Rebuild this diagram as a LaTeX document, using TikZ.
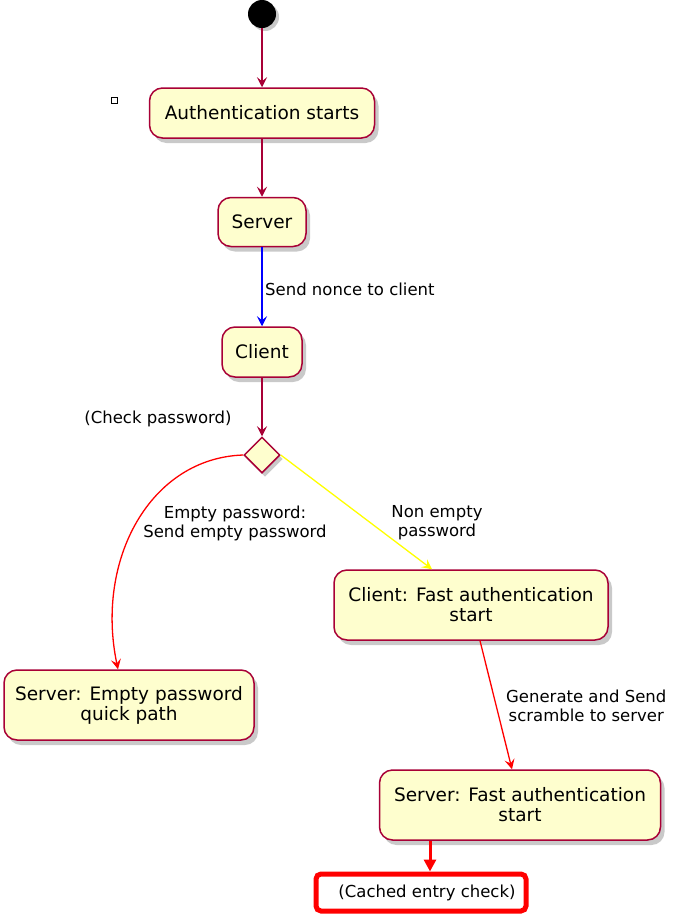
\documentclass[tikz,border=0pt]{standalone}
\usepackage{fontspec}
\setmainfont{DejaVu Sans}
\usetikzlibrary{arrows.meta,shadows,shapes.geometric}
\definecolor{uml}{HTML}{A80036}
\definecolor{umlfill}{HTML}{FEFECE}
\definecolor{ured}{HTML}{FF0000}
\definecolor{ublue}{HTML}{0000FF}
\definecolor{uyellow}{HTML}{FFFF00}
\tikzset{
  act/.style={draw=uml, fill=umlfill, line width=1.5pt, rounded corners=13pt, align=center,
    font=\fontsize{18.5}{20}\selectfont, inner sep=0pt,
    drop shadow={shadow xshift=4pt, shadow yshift=-5pt, opacity=0.35, fill=black!60}},
  lbl/.style={font=\fontsize{16.5}{19}\selectfont, align=center, inner sep=0pt},
  flow/.style={line width=1.3pt, -{Stealth[length=10pt,width=10pt,inset=4pt]}},
}
\begin{document}
\begin{tikzpicture}[x=1pt,y=-1pt]
\useasboundingbox (0,0) rectangle (675,916);
\fill[white] (0,0) rectangle (675,916);
% start
\node[circle, fill=black, minimum size=28pt, inner sep=0pt,
  drop shadow={shadow xshift=3pt, shadow yshift=-3pt, opacity=0.35, fill=black!60}] (start) at (262,14) {};
\node[draw=black, line width=0.7pt, minimum size=6pt, inner sep=0pt] (sq) at (114,100) {};
% actions
\node[act, minimum width=225pt, minimum height=50pt] (auth) at (262,113) {Authentication starts};
\node[act, minimum width=88pt, minimum height=49pt] (server) at (262,222) {Server};
\node[act, minimum width=80pt, minimum height=50pt] (client) at (262,352) {Client};
\node[diamond, draw=uml, fill=umlfill, line width=1.5pt, minimum width=36pt, minimum height=36pt, inner sep=0pt,
  drop shadow={shadow xshift=3pt, shadow yshift=-4pt, opacity=0.35, fill=black!60}] (dec) at (262,455) {};
\node[act, minimum width=274pt, minimum height=70pt] (cfast) at (471,605) {Client: Fast authentication\\start};
\node[act, minimum width=250pt, minimum height=70pt] (sempty) at (129,705) {Server: Empty password\\quick path};
\node[act, minimum width=281pt, minimum height=70pt] (sfast) at (520,805) {Server: Fast authentication\\start};
\node[draw=ured, line width=5pt, rounded corners=5pt, minimum width=210pt, minimum height=37pt,
  font=\fontsize{16.5}{19}\selectfont] (cache) at (421,892.5) {\raisebox{2pt}{\hspace{12pt}(Cached entry check)}};
% labels
\node[lbl, anchor=west] (l1) at (265,289) {Send nonce to client};
\node[lbl] (l2) at (158,419) {(Check password)};
\node[lbl] (l3) at (235,523) {Empty password:\\Send empty password};
\node[lbl] (l4) at (437,523) {Non empty\\password};
\node[lbl, anchor=west] (l5) at (506,706) {Generate and Send\\scramble to server};
% edges
\draw[flow, uml] (start) -- (auth);
\draw[flow, uml] (auth) -- (server);
\draw[flow, ublue] (server) -- (client);
\draw[flow, uml] (client) -- (dec.north);
\draw[flow, ured] (dec.west) .. controls (150,458) and (95,560) .. (sempty.north -| 118,0);
\draw[flow, uyellow] (dec.east) -- (cfast.north -| 432,0);
\draw[flow, ured] (cfast.south -| 480,0) -- (sfast.north -| 512,0);
\draw[ured, line width=3pt, -{Triangle[length=12pt,width=12pt]}] (sfast.south -| 430,0) -- (cache.north -| 430,0);
\end{tikzpicture}
\end{document}
